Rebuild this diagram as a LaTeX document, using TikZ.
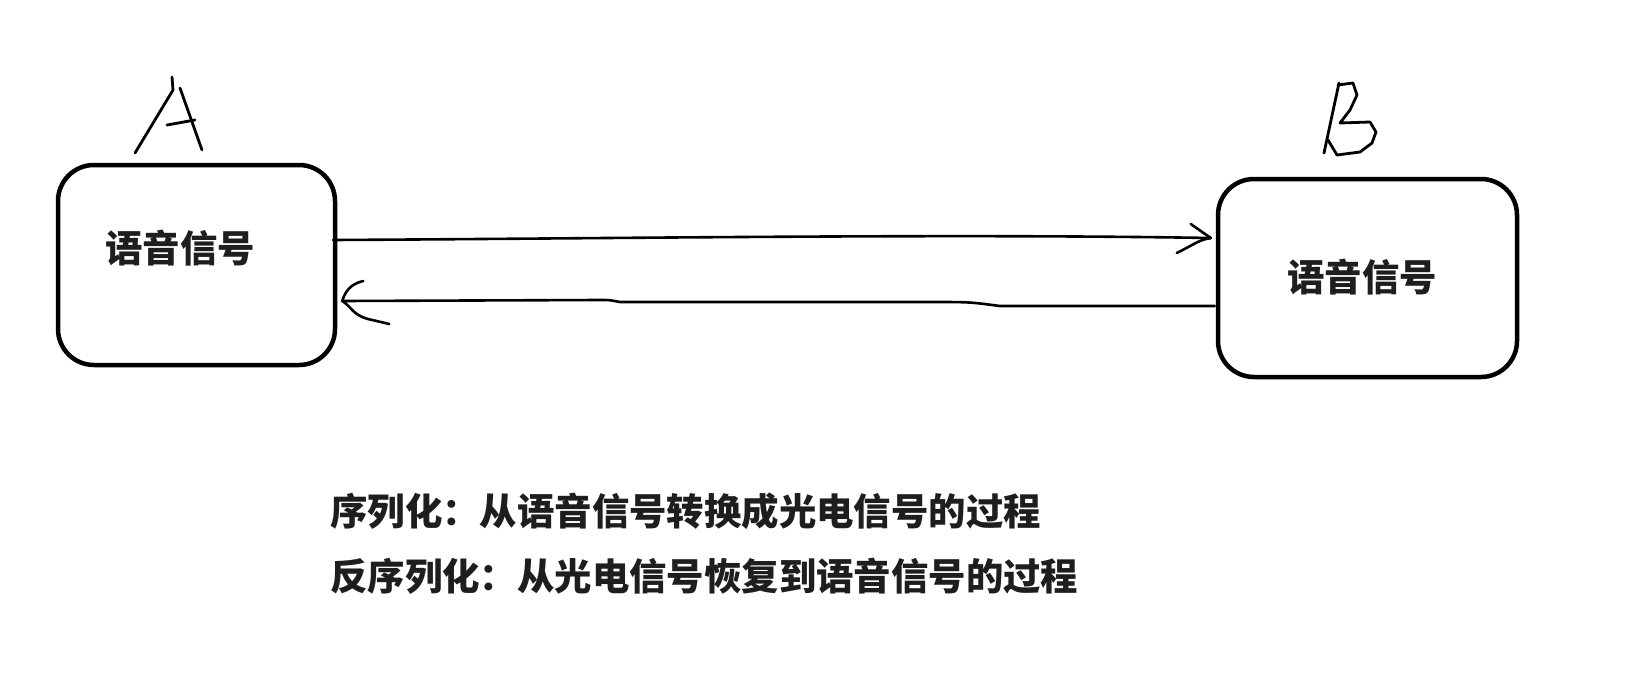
\documentclass[tikz,border=0pt]{standalone}
\usepackage{fontspec}
\newfontfamily\cjk{Noto Sans CJK SC}[BoldFont={Noto Sans CJK SC Black}]
\usetikzlibrary{calc}
\definecolor{txt}{HTML}{1E1E1E}
\begin{document}
\begin{tikzpicture}[x=1pt,y=-1pt,
  box/.style={draw=black,line width=4.5pt,rounded corners=36pt,minimum width=277pt,minimum height=200pt,inner sep=0pt},
  conn/.style={draw=black,line width=2.6pt,line cap=round,line join=round},
  hand/.style={draw=black,line width=2.8pt,line cap=round,line join=round},
  lbl/.style={text=txt,inner sep=0pt,font=\cjk\bfseries\fontsize{37.4}{40}\selectfont}]
\useasboundingbox[fill=white] (0,0) rectangle (1634,688);
% boxes
\node[box] (boxA) at (196.5,265) {};
\node[box,minimum width=299pt,minimum height=198pt] (boxB) at (1367.5,278) {};
% box texts
\node[lbl,anchor=base] (txtA) at (180,262) {语音信号};
\node[lbl,anchor=base] (txtB) at (1362,291) {语音信号};
% connector A -> B
\coordinate (s1) at ($(boxA.east)+(-4,-25)$);
\coordinate (t1) at ($(boxB.west)+(-5,-40)$);
\draw[conn] (s1) .. controls ($(s1)!0.35!(t1)+(0,-1)$) and ($(s1)!0.7!(t1)+(0,-5)$) .. (t1);
\draw[conn] (t1) -- ++(-20,-14);
\draw[conn] (t1) .. controls ++(-12,2) and ++(20,-10) .. ($(t1)+(-34,15)$);
% connector B -> A
\coordinate (s2) at ($(boxB.west)+(-1,28)$);
\coordinate (t2) at ($(boxA.east)+(5,36)$);
\draw[conn] (s2) -- ++(-215,0) .. controls ++(-30,-4) .. ++(-70,-4) -- ++(-310,0) .. controls ++(-10,-2) .. ++(-20,-2) -- (t2);
\draw[conn] (t2) .. controls ++(4,-14) and ++(-8,2) .. ($(t2)+(21,-20)$);
\draw[conn] (t2) .. controls ++(10,6) and ++(-20,-4) .. ($(t2)+(30,19)$) -- ($(t2)+(47,23)$);
% hand-drawn letter A
\draw[hand] (172,77) -- (173,90) -- (135,153);
\draw[hand] (180,88) -- (202,150);
\draw[hand] (167,125) -- (195,120);
% hand-drawn letter B
\draw[hand] (1339,83) -- (1324,153);
\draw[hand] (1338,85) -- (1353,83) -- (1357,95) -- (1350,110) -- (1340,123) -- (1370,122) -- (1376,132) -- (1372,143) -- (1360,152) -- (1337,155) -- (1328,140);
% description lines
\node[lbl,anchor=base west] (line1) at (330,525) {序列化：从语音信号转换成光电信号的过程};
\node[lbl,anchor=base west] (line2) at (330,590) {反序列化：从光电信号恢复到语音信号的过程};
\end{tikzpicture}
\end{document}
